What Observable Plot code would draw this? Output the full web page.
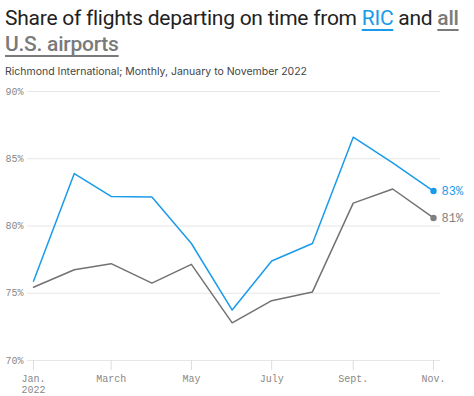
<!DOCTYPE html>
<html>
<head>
<meta charset="utf-8">
<script src="https://cdn.jsdelivr.net/npm/d3@7"></script>
<script src="https://cdn.jsdelivr.net/npm/@observablehq/plot@0.6"></script>
<style>
  html, body { margin: 0; padding: 0; background: #fff; }
  body { width: 474px; height: 396px; overflow: hidden; font-family: Inter, "Noto Sans", sans-serif; }
  #title { margin: 5px 0 0 5px; font-family: Roboto, sans-serif; font-size: 21px; line-height: 26px; color: #222; font-weight: 400; letter-spacing: -0.25px; width: 469px; }
  .ric { color: #1a9bea; text-decoration: underline; text-decoration-thickness: 2px; text-underline-offset: 4px; }
  .all { color: #7a7a7a; font-weight: 500; text-decoration: underline; text-decoration-thickness: 2px; text-underline-offset: 4px; }
  #subtitle { margin: 8px 0 0 5px; font-size: 10.5px; color: #444; }
  #chart { margin-top: 2px; }
</style>
</head>
<body>
<div id="title">Share of flights departing on time from <span class="ric">RIC</span> and <span class="all">all U.S. airports</span></div>
<div id="subtitle">Richmond International; Monthly, January to November 2022</div>
<div id="chart"></div>
<script>
const months = ["2022-01","2022-02","2022-03","2022-04","2022-05","2022-06","2022-07","2022-08","2022-09","2022-10","2022-11"];
const ric = [75.9, 83.9, 82.2, 82.15, 78.7, 73.75, 77.4, 78.7, 86.6, 84.7, 82.6];
const allUS = [75.45, 76.75, 77.2, 75.75, 77.15, 72.8, 74.45, 75.1, 81.7, 82.75, 80.6];
const yTicks = [70, 75, 80, 85, 90];
const xTickMonths = ["2022-01","2022-03","2022-05","2022-07","2022-09","2022-11"];
const xTickLabels = ["Jan.\n2022", "March", "May", "July", "Sept.", "Nov."];
const endLabels = ["83%", "81%"];

const BLUE = "#1a9bea", GRAY = "#727272", DOTGRAY = "#7f7f7f";
const parse = s => new Date(s + "-01T00:00:00Z");
const dates = months.map(parse);
const xTicks = xTickMonths.map(parse);

const data = [];
months.forEach((m, i) => {
  data.push({date: dates[i], value: ric[i], series: "RIC"});
  data.push({date: dates[i], value: allUS[i], series: "All"});
});
const last = dates.length - 1;
const endRic = [{date: dates[last], value: ric[last], label: endLabels[0]}];
const endAll = [{date: dates[last], value: allUS[last], label: endLabels[1]}];
const mono = "'Liberation Mono', 'DejaVu Sans Mono', monospace";

const chart = Plot.plot({
  width: 474,
  height: 318,
  marginTop: 11,
  marginBottom: 38,
  marginLeft: 33,
  marginRight: 41,
  style: {fontFamily: mono, fontSize: "10px", color: "#888", background: "#fff"},
  x: {type: "utc", domain: [dates[0], dates[last]], label: null},
  y: {domain: [70, 90], label: null},
  marks: [
    Plot.ruleY(yTicks, {stroke: "#e6e6e6", strokeWidth: 1, insetLeft: -6, insetRight: -7}),
    Plot.axisY({ticks: yTicks, tickSize: 0, tickPadding: 10, tickFormat: d => d + "%", fill: "#888", fontSize: 10, label: null}),
    Plot.axisX({ticks: xTicks, tickSize: 10, tickPadding: 4, stroke: "#ddd", fill: "#888", fontSize: 10, label: null,
      tickFormat: d => xTickLabels[xTicks.findIndex(t => +t === +d)], lineHeight: 1.1}),
    Plot.line(data.filter(d => d.series === "All"), {x: "date", y: "value", stroke: GRAY, strokeWidth: 1.5}),
    Plot.line(data.filter(d => d.series === "RIC"), {x: "date", y: "value", stroke: BLUE, strokeWidth: 1.5}),
    Plot.dot(endRic, {x: "date", y: "value", r: 3.2, fill: BLUE, stroke: null}),
    Plot.dot(endAll, {x: "date", y: "value", r: 3.2, fill: DOTGRAY, stroke: null}),
    Plot.text(endRic, {x: "date", y: "value", text: "label", fill: BLUE, dx: 8, textAnchor: "start", fontSize: 12, fontFamily: mono}),
    Plot.text(endAll, {x: "date", y: "value", text: "label", fill: DOTGRAY, dx: 8, textAnchor: "start", fontSize: 12, fontFamily: mono})
  ]
});
document.getElementById("chart").appendChild(chart);
</script>
</body>
</html>
